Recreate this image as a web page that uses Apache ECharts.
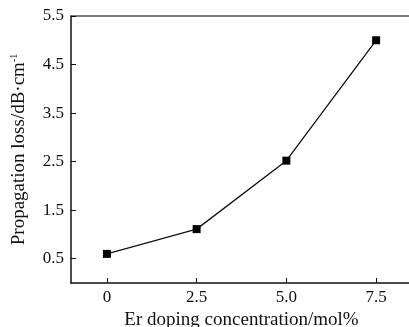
<!DOCTYPE html>
<html><head><meta charset="utf-8">
<script src="https://cdn.jsdelivr.net/npm/echarts@6/dist/echarts.min.js"></script>
<style>html,body{margin:0;padding:0;background:#fff}#c{width:409px;height:327px}</style>
</head><body><div id="c"></div>
<script>
const concentrations = [0, 2.5, 5.0, 7.5];
const losses = [0.6, 1.11, 2.52, 5.0];
const xTickValues = [0, 2.5, 5.0, 7.5];
const yTickValues = [0.5, 1.5, 2.5, 3.5, 4.5, 5.5];
const xTitle = 'Er doping concentration/mol%';
const yTitle = 'Propagation loss/dB·cm';

const font = '"Liberation Serif", "DejaVu Serif", serif';
const chart = echarts.init(document.getElementById('c'));
chart.setOption({
  animation: false,
  backgroundColor: '#fff',
  grid: {left: 71, right: -3, top: 16, bottom: 44, containLabel: false, outerBoundsMode: 'none'},
  xAxis: [{
    type: 'value', min: -1, max: 8.5,
    name: xTitle, nameLocation: 'middle', nameGap: 26,
    nameTextStyle: {fontFamily: font, fontSize: 19, color: '#111'},
    axisLine: {onZero: false, lineStyle: {color: '#111', width: 1.5}},
    axisTick: {inside: true, length: 5, customValues: xTickValues, lineStyle: {color: '#111'}},
    axisLabel: {customValues: xTickValues, fontFamily: font, fontSize: 17, color: '#111', margin: 6,
      formatter: v => v === 0 ? '0' : v.toFixed(1)},
    splitLine: {show: false}
  }, {
    type: 'value', position: 'top', min: -1, max: 8.5,
    axisLine: {show: true, onZero: false, lineStyle: {color: '#555', width: 1.5}},
    axisTick: {show: false}, axisLabel: {show: false}, splitLine: {show: false}
  }],
  yAxis: {
    type: 'value', min: 0, max: 5.5,
    name: '{t|' + yTitle + '}{s|-1}', nameLocation: 'middle', nameGap: 42,
    nameTextStyle: {fontFamily: font, fontSize: 19, color: '#111',
      rich: {t: {fontFamily: font, fontSize: 19, color: '#111'},
             s: {fontFamily: font, fontSize: 10, color: '#111', verticalAlign: 'top', padding: [0,0,10,0]}}},
    axisLine: {show: true, onZero: false, lineStyle: {color: '#111', width: 1.5}},
    axisTick: {inside: true, length: 5, customValues: yTickValues, lineStyle: {color: '#111'}},
    axisLabel: {customValues: yTickValues, fontFamily: font, fontSize: 17, color: '#111', margin: 7,
      formatter: v => v.toFixed(1)},
    splitLine: {show: false}
  },
  series: [{
    type: 'line',
    data: concentrations.map((c, i) => [c, losses[i]]),
    symbol: 'rect', symbolSize: 8,
    lineStyle: {color: '#111', width: 1.3},
    itemStyle: {color: '#000'}
  }]
});
</script></body></html>
